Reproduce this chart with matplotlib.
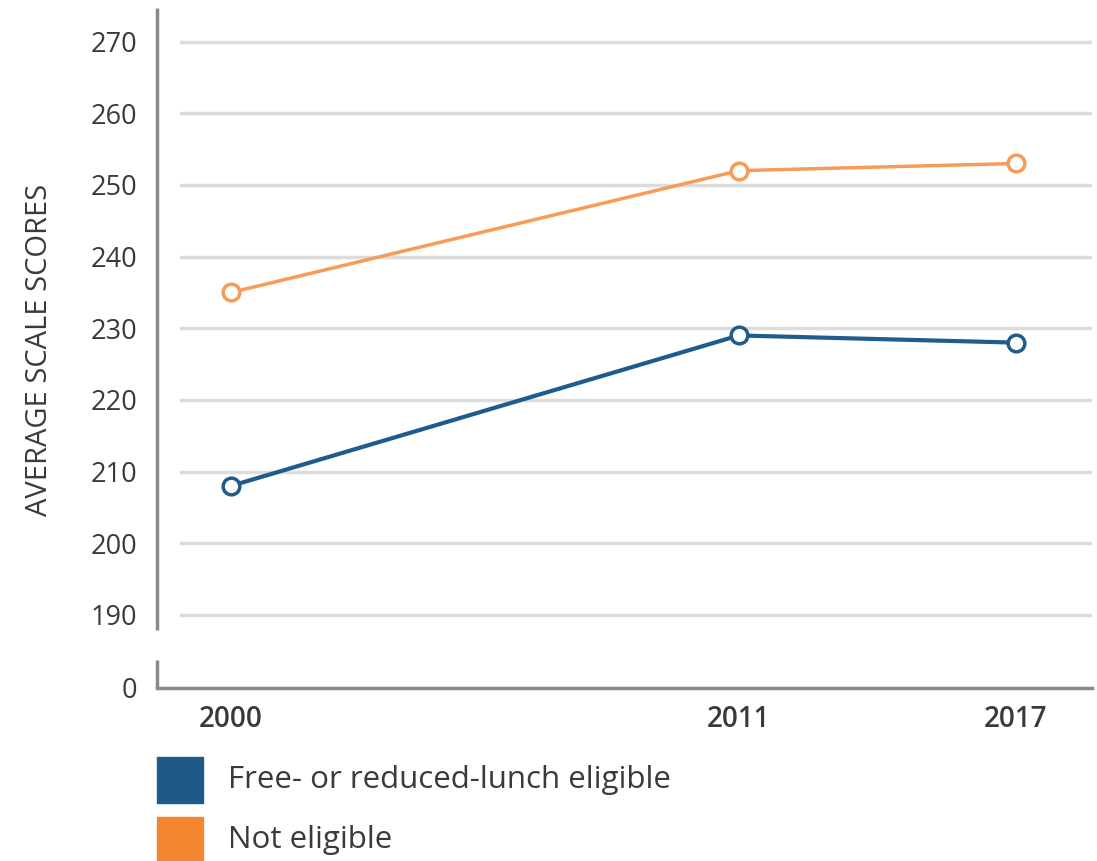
import matplotlib
matplotlib.use("Agg")
import matplotlib.pyplot as plt
from matplotlib.patches import Rectangle

# Data
years = [2000, 2011, 2017]
frl_eligible = [208, 229, 228]
not_eligible = [235, 252, 253]
series_labels = ["Free- or reduced-lunch eligible", "Not eligible"]
y_ticks = [190, 200, 210, 220, 230, 240, 250, 260, 270]

BLUE = "#1d5a8a"
BLUE_LINE = "#1f5b8c"
ORANGE = "#f58630"
ORANGE_LINE = "#f79b58"
TEXT = "#3a3a3a"

plt.rcParams["font.family"] = ["Open Sans", "DejaVu Sans"]

W, H = 1097, 861
fig = plt.figure(figsize=(W / 100, H / 100), dpi=100)

# Axes box in pixel terms
x0, x1 = 157, 1092
ytop, ybot = 8, 688
ax = fig.add_axes([x0 / W, 1 - ybot / H, (x1 - x0) / W, (ybot - ytop) / H])

# Broken axis: the value 0 is placed just below the 190 band
ZERO_POS = 179.8
ax.set_ylim(ZERO_POS, 274.7)
ax.set_xlim(1998.4, 2018.65)

for s in ["top", "right", "left"]:
    ax.spines[s].set_visible(False)
ax.spines["bottom"].set_color("#8a8a8a")
ax.spines["bottom"].set_linewidth(2.5)

# Horizontal gridlines
for v in y_ticks:
    ax.axhline(v, xmin=0.026, xmax=1.0, color="#dcdcdc", lw=2.5, zorder=1)

# Left axis line drawn in two pieces around the break
trans = ax.get_yaxis_transform()
ax.plot([0, 0], [187.9, 274.7], transform=trans, color="#8a8a8a", lw=2.5,
        clip_on=False, solid_capstyle="butt")
ax.plot([0, 0], [ZERO_POS, 183.7], transform=trans, color="#8a8a8a", lw=2.5,
        clip_on=False, solid_capstyle="butt")

# Series
ax.plot(years, not_eligible, color=ORANGE_LINE, lw=2.5, marker="o", ms=12,
        mfc="white", mec=ORANGE_LINE, mew=2.5, zorder=3)
ax.plot(years, frl_eligible, color=BLUE_LINE, lw=3, marker="o", ms=12,
        mfc="white", mec=BLUE_LINE, mew=2.5, zorder=3)

# Ticks
ax.set_yticks([ZERO_POS] + y_ticks)
ax.set_yticklabels(["0"] + [str(v) for v in y_ticks])
ax.set_xticks(years)
ax.set_xticklabels([str(y) for y in years], fontweight="semibold")
ax.tick_params(axis="y", length=0, pad=14, labelsize=19.5, labelcolor=TEXT)
ax.tick_params(axis="x", length=0, pad=12, labelsize=20, labelcolor=TEXT)

fig.text(40 / W, 1 - 350 / H, "AVERAGE SCALE SCORES", rotation=90,
         ha="center", va="center", fontsize=21, color=TEXT)

# Legend
legend_colors = [BLUE, ORANGE]
legend_rows = [780, 840]
for label, color, yc in zip(series_labels, legend_colors, legend_rows):
    fig.add_artist(Rectangle((157 / W, 1 - (yc + 23) / H), 46 / W, 46 / H,
                             transform=fig.transFigure, color=color))
    fig.text(228 / W, 1 - yc / H, label, ha="left", va="center",
             fontsize=22.5, color=TEXT)

fig.savefig("out.png", dpi=100)
